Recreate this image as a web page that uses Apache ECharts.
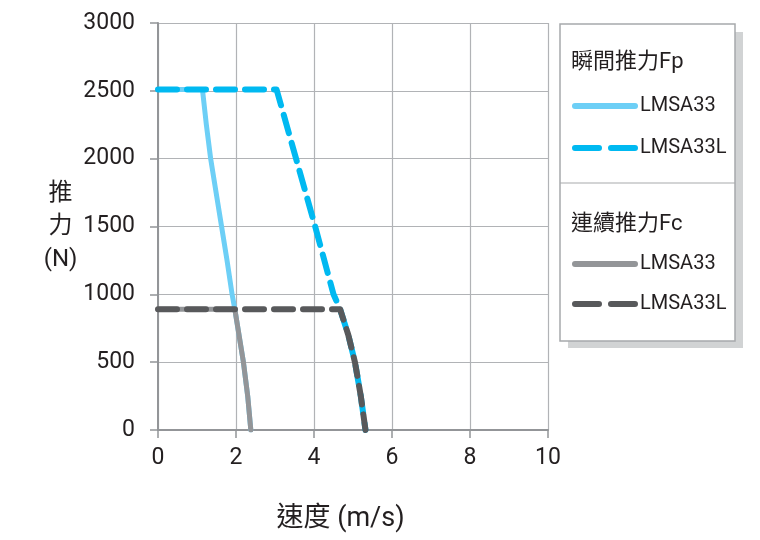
<!DOCTYPE html>
<html>
<head>
<meta charset="utf-8">
<script src="https://cdn.jsdelivr.net/npm/echarts@6/dist/echarts.min.js"></script>
<style>html,body{margin:0;padding:0;background:#fff}#c{width:760px;height:540px}</style>
</head>
<body>
<div id="c"></div>
<script>
// Data
var xTicks = [0, 2, 4, 6, 8, 10];
var yTicks = [0, 500, 1000, 1500, 2000, 2500, 3000];
var peakTitle = '瞬間推力Fp';
var contTitle = '連續推力Fc';
var peakA = [[0,2510],[1.14,2510],[1.24,2250],[1.35,2000],[1.49,1750],[1.63,1500],[1.77,1250],[1.9,1000],[1.97,890],[2.19,500],[2.3,250],[2.38,0]];
var peakL = [[0,2510],[3.04,2510],[3.54,2000],[4.03,1500],[4.5,1000],[4.67,890],[4.88,700],[5.05,500],[5.2,250],[5.32,0]];
var contA = [[0,890],[1.97,890],[2.19,500],[2.3,250],[2.38,0]];
var contL = [[0,890],[4.67,890],[4.88,700],[5.05,500],[5.2,250],[5.32,0]];

var FONT = 'Roboto, "Noto Sans CJK TC", sans-serif';
var chart = echarts.init(document.getElementById('c'));
var dash = [19, 10];
function mk(name, data, color, dashed, w) {
  return {
    name: name, type: 'line', data: data, symbol: 'none', smooth: false,
    lineStyle: { color: color, width: w, type: dashed ? dash : 'solid', cap: 'round', join: 'round' },
    itemStyle: { color: color },
    emphasis: { disabled: true }, animation: false
  };
}
var legendBase = {
  orient: 'vertical', left: 567, itemWidth: 60, itemHeight: 20,
  textStyle: { fontSize: 20, color: '#231f20', fontFamily: FONT },
  lineStyle: { width: 6, cap: 'round' },
  itemStyle: { color: 'rgba(0,0,0,0)', opacity: 0, borderWidth: 0 },
  formatter: function (n) { return n.split(' ')[1]; },
  selectedMode: false
};
var legDash = { type: [24, 12], width: 6, cap: 'round' };
chart.setOption({
  animation: false,
  grid: { left: 158, right: 212, top: 23, bottom: 110, containLabel: false },
  graphic: [
    { type: 'rect', shape: { x: 568, y: 32, width: 175, height: 316 }, style: { fill: '#d1d3d4' }, z: 0 },
    { type: 'rect', shape: { x: 560, y: 24, width: 175, height: 317 }, style: { fill: '#fff', stroke: '#a7a9ac', lineWidth: 1.5 }, z: 1 },
    { type: 'line', shape: { x1: 560, y1: 183, x2: 735, y2: 183 }, style: { stroke: '#a7a9ac', lineWidth: 1.2 }, z: 2 },
    { type: 'text', left: 571, top: 51, style: { text: peakTitle, fontSize: 22, fill: '#231f20', fontFamily: FONT }, z: 3 },
    { type: 'text', left: 571, top: 213, style: { text: contTitle, fontSize: 22, fill: '#231f20', fontFamily: FONT }, z: 3 }
  ],
  legend: [
    Object.assign({}, legendBase, { top: 91, itemGap: 22, data: [{ name: 'Fp LMSA33' }, { name: 'Fp LMSA33L', lineStyle: legDash }] }),
    Object.assign({}, legendBase, { top: 249, itemGap: 20, data: [{ name: 'Fc LMSA33' }, { name: 'Fc LMSA33L', lineStyle: legDash }] })
  ],
  xAxis: {
    type: 'value', min: 0, max: 10, interval: 2,
    name: '速度 (m/s)', nameLocation: 'middle', nameGap: 76,
    nameTextStyle: { fontSize: 27, color: '#231f20', fontFamily: FONT, padding: [0, 25, 0, 0] },
    axisLine: { show: true, lineStyle: { color: '#939598', width: 2 } },
    axisTick: { show: true, length: 8, lineStyle: { color: '#939598', width: 1.5 } },
    axisLabel: { fontSize: 23, color: '#231f20', margin: 17, fontFamily: FONT },
    splitLine: { show: true, lineStyle: { color: '#b1b3b6', width: 1.2 } }
  },
  yAxis: {
    type: 'value', min: 0, max: 3000, interval: 500,
    name: '推\n力\n(N)', nameLocation: 'middle', nameRotate: 0, nameGap: 97,
    nameTextStyle: { fontSize: 24, color: '#231f20', fontFamily: FONT, align: 'center', lineHeight: 33 },
    axisLine: { show: true, lineStyle: { color: '#939598', width: 2 } },
    axisTick: { show: true, length: 8, lineStyle: { color: '#939598', width: 1.5 } },
    axisLabel: { fontSize: 23, color: '#231f20', margin: 23, fontFamily: FONT, formatter: function (v) { return String(v); } },
    splitLine: { show: true, lineStyle: { color: '#b1b3b6', width: 1.2 } }
  },
  series: [
    mk('Fp LMSA33', peakA, '#6dcff6', false, 5),
    mk('Fc LMSA33', contA, '#939598', false, 5),
    mk('Fp LMSA33L', peakL, '#00b9f1', true, 6),
    mk('Fc LMSA33L', contL, '#58595b', true, 6)
  ]
});
</script>
</body>
</html>
